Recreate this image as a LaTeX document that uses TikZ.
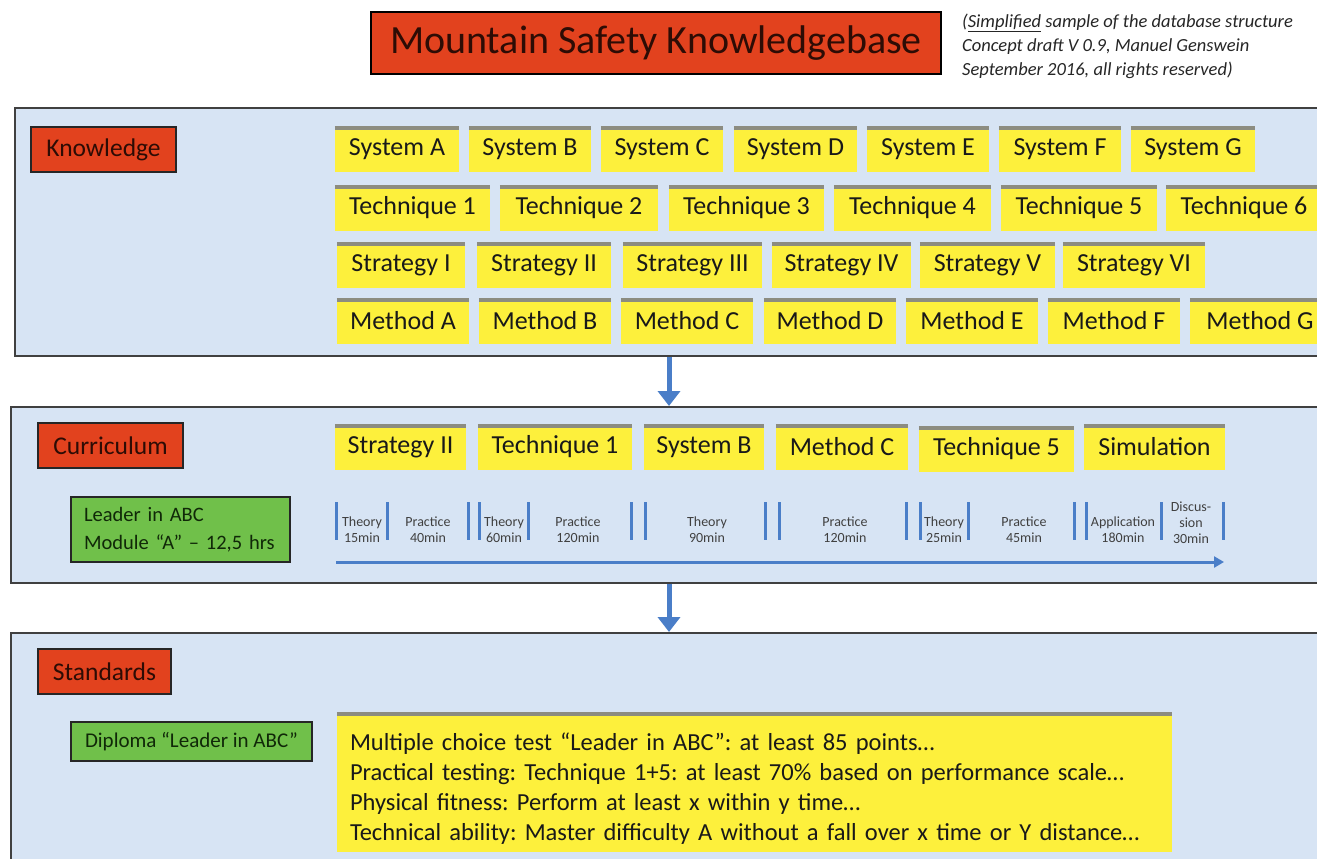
\documentclass[tikz,border=0pt]{standalone}
\usepackage{fontspec}
\setmainfont{Carlito}
\usetikzlibrary{arrows.meta}
\definecolor{myred}{RGB}{226,66,30}
\definecolor{paneblue}{RGB}{215,228,244}
\definecolor{yel}{RGB}{253,240,60}
\definecolor{grn}{RGB}{112,192,74}
\definecolor{arrblue}{RGB}{74,126,200}
\definecolor{txt}{RGB}{25,25,25}
\definecolor{redtxt}{RGB}{45,12,5}
\definecolor{grntxt}{RGB}{16,40,8}
\definecolor{shadegray}{RGB}{140,140,128}
\begin{document}
\frenchspacing
\begin{tikzpicture}[x=1pt,y=-1pt,
  panel/.style={draw=black!75, line width=1.8pt, fill=paneblue, anchor=north west, inner sep=0pt},
  lbl/.style={draw=black!85, line width=1.6pt, fill=myred, inner sep=0pt, minimum height=45pt, font=\fontsize{25.5}{29}\selectfont, text=redtxt},
  yb/.style={fill=yel, inner sep=0pt, minimum height=45pt, font=\fontsize{26}{30}\selectfont, text=txt},
  topshade/.style={draw=shadegray, line width=4pt},
  gb/.style={draw=black!85, line width=1.6pt, fill=grn, inner sep=0pt, text=grntxt},
  tick/.style={arrblue, line width=3pt},
  tl/.style={font=\fontsize{14}{16}\selectfont, align=center, text=black!75, inner sep=0pt},
  bigarrow/.style={arrblue, line width=5pt, -{Triangle[width=22pt,length=15pt]}},
  tlarrow/.style={arrblue, line width=3pt, -{Triangle[width=11pt,length=10pt]}}
]
\clip (0,0) rectangle (1317,859);
\fill[white] (0,0) rectangle (1317,859);

% title
\node[draw=black, line width=1.8pt, fill=myred, minimum width=570pt, minimum height=62pt, inner sep=0pt,
  font=\fontsize{40}{44}\selectfont, text=redtxt] (title) at (656,43) {Mountain Safety Knowledgebase};
\node[anchor=west, align=left, inner sep=0pt, font=\itshape\fontsize{18.5}{24}\selectfont, text=black!85] (note) at (962,46)
  {(\underline{Simplified} sample of the database structure\\Concept draft V 0.9, Manuel Genswein\\September 2016, all rights reserved)};

% panels
\node[panel, minimum width=1330pt, minimum height=248pt] (kpanel) at (14,107) {};
\node[panel, minimum width=1330pt, minimum height=176pt] (cpanel) at (10,406) {};
\node[panel, minimum width=1330pt, minimum height=240pt] (spanel) at (10,632) {};

% labels
\node[lbl, minimum width=145pt] (klbl) at (103.5,149.5) {Knowledge};
\node[lbl, minimum width=145pt] (clbl) at (110.5,445.5) {Curriculum};
\node[lbl, minimum width=133pt] (slbl) at (104.5,671.5) {Standards};

% knowledge rows
\node[yb, minimum width=124pt] (sysA) at (397,149) {System A};
\node[yb, minimum width=122pt] (sysB) at (530,149) {System B};
\node[yb, minimum width=122pt] (sysC) at (662,149) {System C};
\node[yb, minimum width=123pt] (sysD) at (795.5,149) {System D};
\node[yb, minimum width=122pt] (sysE) at (928,149) {System E};
\node[yb, minimum width=122pt] (sysF) at (1060,149) {System F};
\node[yb, minimum width=124pt] (sysG) at (1193,149) {System G};

\node[yb, minimum width=155pt] (tec1) at (412.5,208) {Technique 1};
\node[yb, minimum width=158pt] (tec2) at (579,208) {Technique 2};
\node[yb, minimum width=155pt] (tec3) at (746.5,208) {Technique 3};
\node[yb, minimum width=157pt] (tec4) at (912.5,208) {Technique 4};
\node[yb, minimum width=156pt] (tec5) at (1079,208) {Technique 5};
\node[yb, minimum width=156pt] (tec6) at (1244,208) {Technique 6};

\node[yb, minimum width=128pt] (str1) at (401,265) {Strategy I};
\node[yb, minimum width=134pt] (str2) at (544,265) {Strategy II};
\node[yb, minimum width=139pt] (str3) at (692.5,265) {Strategy III};
\node[yb, minimum width=139pt] (str4) at (841.5,265) {Strategy IV};
\node[yb, minimum width=135pt] (str5) at (987.5,265) {Strategy V};
\node[yb, minimum width=142pt] (str6) at (1134,265) {Strategy VI};

\node[yb, minimum width=132pt] (metA) at (403,321) {Method A};
\node[yb, minimum width=132pt] (metB) at (545,321) {Method B};
\node[yb, minimum width=132pt] (metC) at (687,321) {Method C};
\node[yb, minimum width=132pt] (metD) at (830,321) {Method D};
\node[yb, minimum width=132pt] (metE) at (972,321) {Method E};
\node[yb, minimum width=132pt] (metF) at (1114,321) {Method F};
\node[yb, minimum width=140pt] (metG) at (1260,321) {Method G};

% curriculum row
\node[yb, minimum width=131pt] (c1) at (400.5,447) {Strategy II};
\node[yb, minimum width=154pt] (c2) at (555,447) {Technique 1};
\node[yb, minimum width=120pt] (c3) at (704,447) {System B};
\node[yb, minimum width=132pt] (c4) at (842,447) {Method C};
\node[yb, minimum width=155pt] (c5) at (996.5,449) {Technique 5};
\node[yb, minimum width=141pt] (c6) at (1154.5,447) {Simulation};

\node[gb, minimum height=65pt, text width=193pt, inner xsep=13pt, align=left,
  font=\fontsize{20.5}{28}\selectfont] (module) at (180.5,529.5) {Leader in ABC\\Module “A” – 12,5 hrs};

% timeline
\foreach \x in {336,387,468,479,528,631,645,765,779,906,920,968,1074,1086,1161,1223}
  \draw[tick] (\x,502) -- (\x,540);
\node[tl] (t1) at (362,530) {Theory\\15min};
\node[tl] (t2) at (428,530) {Practice\\40min};
\node[tl] (t3) at (504,530) {Theory\\60min};
\node[tl] (t4) at (578,530) {Practice\\120min};
\node[tl] (t5) at (707,530) {Theory\\90min};
\node[tl] (t6) at (845,530) {Practice\\120min};
\node[tl] (t7) at (944,530) {Theory\\25min};
\node[tl] (t8) at (1024,530) {Practice\\45min};
\node[tl] (t9) at (1123,530) {Application\\180min};
\node[tl] (t10) at (1191,523) {Discus-\\sion\\30min};
\coordinate (tls) at (336,562);
\coordinate (tle) at (1224,562);
\draw[tlarrow] (tls) -- (tle);

% standards
\node[gb, minimum width=241pt, minimum height=39pt, font=\fontsize{21}{24}\selectfont] (dipl) at (191.5,741.5) {Diploma “Leader in ABC”};
\node[yb, minimum height=140pt, text width=809pt, inner xsep=13pt, align=left,
  font=\fontsize{24.5}{30}\selectfont] (std) at (754.5,782)
  {\rule{0pt}{30pt}Multiple choice test “Leader in ABC”: at least 85 points…\\
   Practical testing: Technique 1+5: at least 70\% based on performance scale…\\
   Physical fitness: Perform at least x within y time…\\
   Technical ability: Master difficulty A without a fall over x time or Y distance…};

% top shading of yellow boxes
\foreach \n in {sysA,sysB,sysC,sysD,sysE,sysF,sysG,tec1,tec2,tec3,tec4,tec5,tec6,str1,str2,str3,str4,str5,str6,metA,metB,metC,metD,metE,metF,metG,c1,c2,c3,c4,c5,c6,std}
  \draw[topshade] ([yshift=-2pt]\n.north west) -- ([yshift=-2pt]\n.north east);

% arrows
\coordinate (ax) at (669,0);
\draw[bigarrow] (kpanel.south -| ax) -- (cpanel.north -| ax);
\draw[bigarrow] (cpanel.south -| ax) -- (spanel.north -| ax);
\end{tikzpicture}
\end{document}
